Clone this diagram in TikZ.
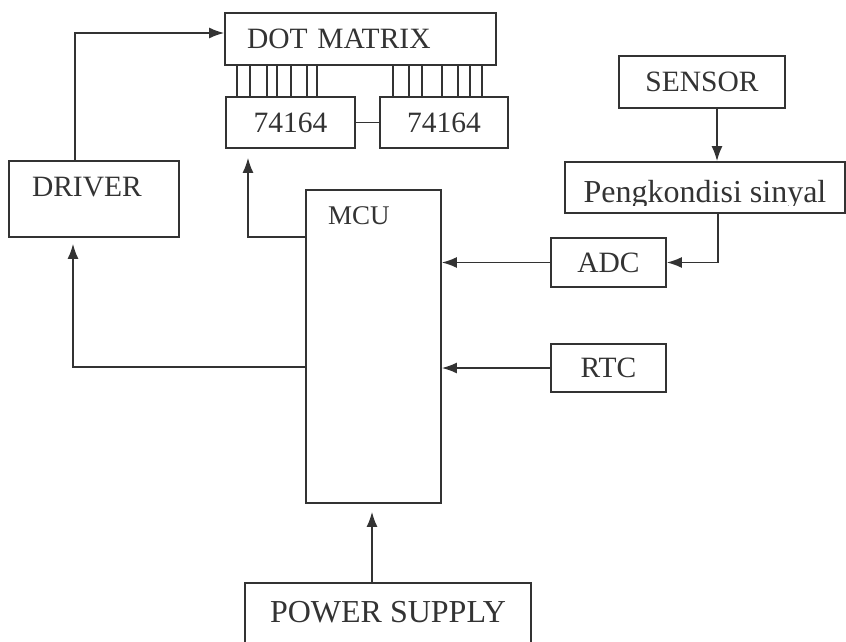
\documentclass[tikz,border=0pt]{standalone}
\usepackage{fontspec}
\setmainfont{Liberation Serif}
\usetikzlibrary{arrows.meta}

\begin{document}
\begin{tikzpicture}[x=1pt, y=-1pt, line width=1.7pt, color=black!80,
    huruf/.style={font=\fontsize{29.5}{34}\selectfont},
    besar/.style={font=\fontsize{32}{36}\selectfont},
    kotak/.style={draw, rectangle, inner sep=0pt, huruf},
    panah/.style={-{Latex[length=15pt, width=11pt]}},
    kaki/.style={line width=1.4pt}]
      \useasboundingbox (0,0) rectangle (846,642);
      \clip (0,0) rectangle (846,642);

      \node[kotak, minimum width=271pt, minimum height=52pt, text width=227pt, align=left] (dot) at (360.5,39) {DOT MATRIX};
      \node[kotak, minimum width=129pt, minimum height=51pt] (srA) at (290.5,122.5) {74164};
      \node[kotak, minimum width=128pt, minimum height=51pt] (srB) at (444,122.5) {74164};
      \node[kotak, minimum width=170pt, minimum height=76pt,
        label={[huruf, inner sep=0pt, anchor=north west, xshift=23pt, yshift=-16pt]north west:DRIVER}] (driver) at (94,199) {};
      \node[kotak, minimum width=135pt, minimum height=313pt,
        label={[inner sep=0pt, anchor=north west, xshift=22pt, yshift=-17pt, font=\fontsize{27}{31}\selectfont]north west:MCU}] (mcu) at (373.5,346.5) {};
      \node[kotak, minimum width=166pt, minimum height=52pt] (sensor) at (702,82) {SENSOR};
      \node[kotak, minimum width=280pt, minimum height=51pt] (cond) at (705,187.5) {};
      \node[kotak, minimum width=115pt, minimum height=49pt] (adc) at (608.5,262.5) {ADC};
      \node[kotak, minimum width=115pt, minimum height=48pt] (rtc) at (608.5,368) {RTC};
      \node[kotak, besar, minimum width=286pt, minimum height=64pt, text depth=7pt] (power) at (388,615) {POWER SUPPLY};

      \begin{scope}
        \clip (cond.north west) rectangle ([yshift=8pt]cond.south east);
        \node[besar, anchor=base, inner sep=0pt] (condtxt) at ([yshift=11pt]cond.south) {Pengkondisi sinyal};
      \end{scope}

      \foreach \x in {237,250,267,277,291,307,317} \draw[kaki] (\x,0 |- dot.south) -- (\x,0 |- srA.north);
      \foreach \x in {393,409,422,442,458,470,482} \draw[kaki] (\x,0 |- dot.south) -- (\x,0 |- srB.north);
      \draw (srA) -- (srB);

      \coordinate (pwr) at ([xshift=-16pt]power.north);
      \coordinate (sens) at ([xshift=15pt]sensor.south);
      \draw[panah] ([xshift=-19pt]driver.north) |- ([yshift=6pt]dot.west);
      \draw[panah, shorten >=6pt] ([yshift=-20.5pt]mcu.west) -| ([xshift=-21pt]driver.south);
      \draw[panah, shorten >=9pt] ([yshift=109.5pt]mcu.west) -| ([xshift=-42.5pt]srA.south);
      \draw[panah, shorten >=8pt] (pwr) -- (pwr |- mcu.south);
      \draw[panah] (sens) -- (sens |- cond.north);
      \draw[panah] ([xshift=13pt]cond.south) |- (adc.east);
      \draw[panah] (adc.west) -- (adc.west -| mcu.east);
      \draw[panah] (rtc.west) -- (rtc.west -| mcu.east);
    \end{tikzpicture}
\end{document}
